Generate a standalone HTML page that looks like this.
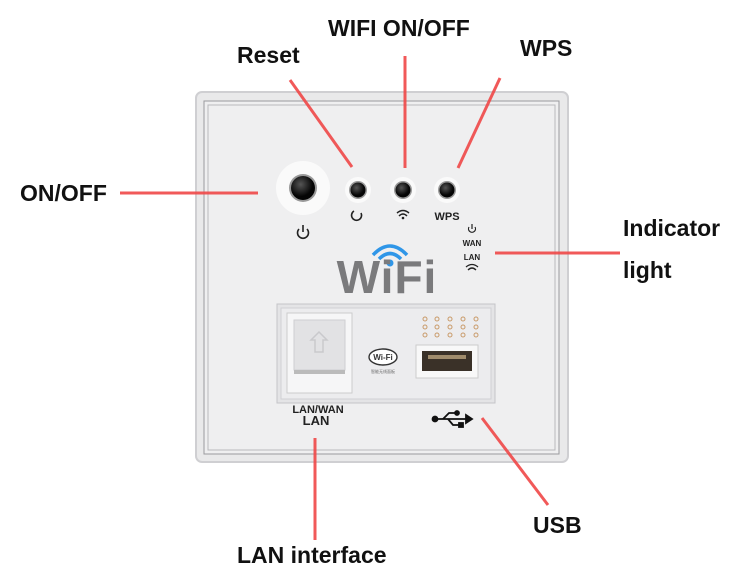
<!DOCTYPE html>
<html><head><meta charset="utf-8"><style>
body{margin:0;width:750px;height:575px;background:#fff;overflow:hidden;font-family:"Liberation Sans",Arial,sans-serif}
.l{position:absolute;font-size:23px;font-weight:bold;color:#111;white-space:nowrap}
</style></head><body>
<svg width="750" height="575" style="position:absolute;left:0;top:0">
<defs><radialGradient id="b" cx="40%" cy="35%"><stop offset="0" stop-color="#555"/><stop offset="1" stop-color="#050505"/></radialGradient></defs>
<rect x="196" y="92" width="372" height="370" rx="6" fill="#e9e9ea" stroke="#cfcfd2" stroke-width="2"/>
<rect x="204" y="101" width="355" height="353" fill="#efeff0" stroke="#9a9a9e" stroke-width="1"/>
<rect x="208" y="105" width="347" height="345" fill="none" stroke="#b8b8bc" stroke-width="1"/>
<circle cx="303" cy="188" r="27" fill="#fafafa"/>
<circle cx="303" cy="188" r="14" fill="#999"/><circle cx="303" cy="188" r="12" fill="url(#b)"/>
<g><circle cx="358" cy="190" r="13" fill="#fafafa"/><circle cx="358" cy="190" r="9" fill="#999"/><circle cx="358" cy="190" r="7.5" fill="url(#b)"/></g>
<g><circle cx="403" cy="190" r="13" fill="#fafafa"/><circle cx="403" cy="190" r="9" fill="#999"/><circle cx="403" cy="190" r="7.5" fill="url(#b)"/></g>
<g><circle cx="447" cy="190" r="13" fill="#fafafa"/><circle cx="447" cy="190" r="9" fill="#999"/><circle cx="447" cy="190" r="7.5" fill="url(#b)"/></g>
<path d="M354 211 A5 5 0 1 0 361 213" fill="none" stroke="#222" stroke-width="1.6"/>
<g fill="none" stroke="#222" stroke-width="1.5"><path d="M397 213 Q403 208 409 213"/><path d="M399 216 Q403 212 407 216"/></g><circle cx="403" cy="218" r="1.3" fill="#222"/>
<text x="447" y="220" font-size="11" font-weight="bold" text-anchor="middle" font-family="Liberation Sans" fill="#222">WPS</text>
<path d="M299 229 A5.5 5.5 0 1 0 307 229" fill="none" stroke="#222" stroke-width="1.6"/><line x1="303" y1="225" x2="303" y2="232" stroke="#222" stroke-width="1.6"/>
<path d="M469 227 A3.5 3.5 0 1 0 475 227" fill="none" stroke="#222" stroke-width="1.2"/><line x1="472" y1="224" x2="472" y2="229" stroke="#222" stroke-width="1.2"/>
<text x="472" y="246" font-size="8" font-weight="bold" text-anchor="middle" font-family="Liberation Sans" fill="#222">WAN</text>
<text x="472" y="260" font-size="8" font-weight="bold" text-anchor="middle" font-family="Liberation Sans" fill="#222">LAN</text>
<g fill="none" stroke="#222" stroke-width="1.3"><path d="M466 267 Q472 262 478 267"/><path d="M468 270 Q472 266 476 270"/></g>
<g fill="none" stroke="#2f96e8" stroke-width="3.5"><path d="M373 255 Q390 237 407 255"/><path d="M379 259 Q390 248 401 259"/></g>
<circle cx="390" cy="263" r="3.5" fill="#2f96e8"/>
<text x="387" y="293" font-size="46" font-weight="bold" text-anchor="middle" font-family="Liberation Sans" fill="#7a7a7c" letter-spacing="1">WiFi</text>
<rect x="277" y="304" width="218" height="99" fill="#e4e4e6" stroke="#c4c4c8"/>
<rect x="281" y="308" width="210" height="91" fill="#ececee" stroke="#d0d0d4"/>
<rect x="287" y="313" width="65" height="80" fill="#f6f6f7" stroke="#ccc"/>
<rect x="294" y="320" width="51" height="50" fill="#e2e2e4" stroke="#cfcfd2"/>
<path d="M311 340 L319 332 L327 340 L323 340 L323 352 L315 352 L315 340Z" fill="none" stroke="#c9c9cc" stroke-width="1.5"/>
<rect x="294" y="370" width="51" height="4" fill="#bbb"/>
<ellipse cx="383" cy="357" rx="14" ry="8" fill="#fff" stroke="#333" stroke-width="1.4"/>
<text x="383" y="360" font-size="8" font-weight="bold" text-anchor="middle" fill="#333">Wi-Fi</text>
<text x="383" y="373" font-size="4" text-anchor="middle" fill="#666">智能无线面板</text>
<g fill="none" stroke="#c99b6a" stroke-width="1">
<circle cx="425" cy="319" r="2"/><circle cx="437" cy="319" r="2"/><circle cx="450" cy="319" r="2"/><circle cx="463" cy="319" r="2"/><circle cx="476" cy="319" r="2"/>
<circle cx="425" cy="327" r="2"/><circle cx="437" cy="327" r="2"/><circle cx="450" cy="327" r="2"/><circle cx="463" cy="327" r="2"/><circle cx="476" cy="327" r="2"/>
<circle cx="425" cy="335" r="2"/><circle cx="437" cy="335" r="2"/><circle cx="450" cy="335" r="2"/><circle cx="463" cy="335" r="2"/><circle cx="476" cy="335" r="2"/></g>
<rect x="416" y="345" width="62" height="33" fill="#f8f8f8" stroke="#ccc"/>
<rect x="422" y="351" width="50" height="20" fill="#3a3128"/>
<rect x="428" y="355" width="38" height="4" fill="#a08c6c"/>
<text x="318" y="413" font-size="11" font-weight="bold" text-anchor="middle" fill="#222">LAN/WAN</text>
<text x="316" y="425" font-size="13" font-weight="bold" text-anchor="middle" fill="#222">LAN</text>
<g stroke="#111" stroke-width="1.8" fill="#111"><circle cx="435" cy="419" r="2.5"/><line x1="435" y1="419" x2="466" y2="419"/><path d="M466 415 L472 419 L466 423Z"/><path d="M443 419 L449 413 L456 413" fill="none"/><circle cx="457" cy="413" r="2"/><path d="M448 419 L453 425 L459 425" fill="none"/><rect x="459" y="423" width="4" height="4"/></g>
<g stroke="#f04848" stroke-width="3" opacity="0.9">
<line x1="290" y1="80" x2="352" y2="167"/>
<line x1="405" y1="56" x2="405" y2="168"/>
<line x1="500" y1="78" x2="458" y2="168"/>
<line x1="120" y1="193" x2="258" y2="193"/>
<line x1="495" y1="253" x2="620" y2="253"/>
<line x1="315" y1="438" x2="315" y2="540"/>
<line x1="482" y1="418" x2="548" y2="505"/>
</g>
</svg>
<div class="l" style="left:237px;top:42px">Reset</div>
<div class="l" style="left:328px;top:15px">WIFI ON/OFF</div>
<div class="l" style="left:520px;top:35px">WPS</div>
<div class="l" style="left:20px;top:180px">ON/OFF</div>
<div class="l" style="left:623px;top:215px">Indicator</div>
<div class="l" style="left:623px;top:257px">light</div>
<div class="l" style="left:533px;top:512px">USB</div>
<div class="l" style="left:237px;top:542px">LAN interface</div>
</body></html>
